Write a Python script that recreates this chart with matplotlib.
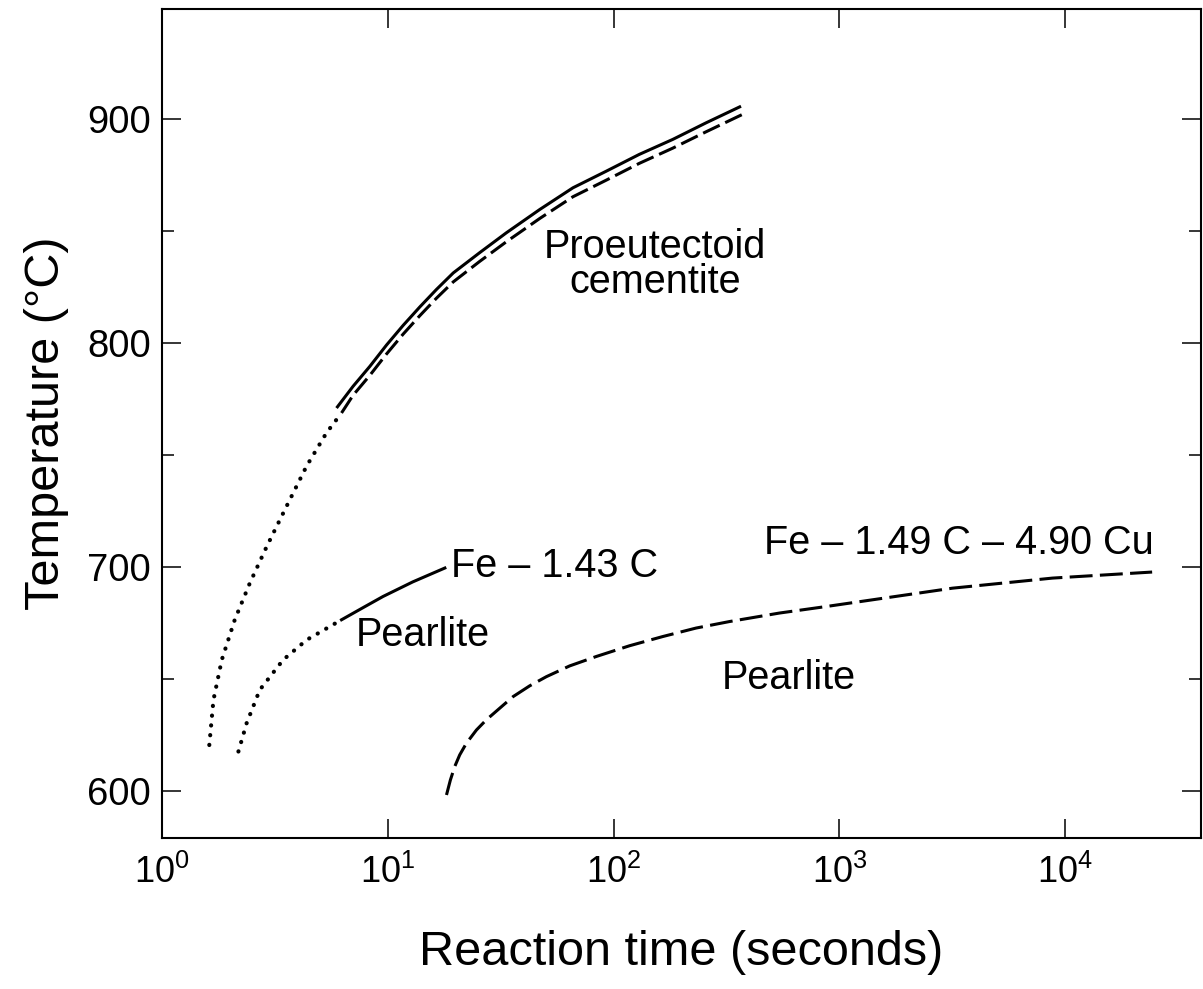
import matplotlib

matplotlib.use("Agg")
import matplotlib.pyplot as plt
from matplotlib.ticker import FixedLocator, LogFormatterMathtext, NullLocator

plt.rcParams["font.family"] = ["Liberation Sans", "DejaVu Sans"]
plt.rcParams["mathtext.fontset"] = "custom"
plt.rcParams["mathtext.rm"] = "Liberation Sans"
plt.rcParams["mathtext.it"] = "Liberation Sans:italic"
plt.rcParams["mathtext.bf"] = "Liberation Sans:bold"

# proeutectoid cementite start (solid / dashed) with dotted low-T extension
cem_solid_t = [5.93, 7.02, 8.33, 9.87, 11.7, 13.86, 16.42, 19.5, 25.5, 33.5, 47.1,
               66.1, 92.8, 130, 183, 257, 367]
cem_solid_T = [770.9, 780.6, 789.5, 799.0, 807.8, 816.0, 823.8, 831.2, 840.2, 849.1,
               859.5, 869.2, 876.6, 884.1, 890.8, 898.2, 905.6]
cem_dash_t = [6.24, 7.02, 8.33, 9.87, 11.7, 13.86, 16.42, 19.5, 25.5, 33.5, 47.1,
              66.1, 92.8, 130, 183, 257, 386]
cem_dash_T = [768.7, 776.6, 785.5, 795.0, 803.9, 812.1, 819.9, 827.2, 836.3, 845.1,
              855.5, 865.2, 872.6, 880.1, 886.9, 894.2, 902.7]
cem_dot_t = [1.62, 1.69, 1.84, 2.10, 2.45, 2.91, 3.56, 4.37, 5.35, 6.24]
cem_dot_T = [620.5, 640.6, 658.5, 676.4, 692.8, 709.1, 727.0, 745.0, 759.8, 768.7]

# pearlite start, Fe - 1.43 C
prl_dot_t = [2.18, 2.37, 2.71, 3.44, 4.37, 6.24]
prl_dot_T = [617.6, 630.2, 645.1, 658.5, 667.4, 676.4]
prl_solid_t = [6.24, 7.8, 9.53, 12.9, 17.9]
prl_solid_T = [676.4, 681.9, 686.8, 693.3, 699.5]

# pearlite start, Fe - 1.49 C - 4.90 Cu
cu_t = [18.2, 18.94, 19.8, 20.83, 22.3, 24.7, 27.3, 31.3, 35.9, 42.5, 50.4, 63.9,
        83.8, 117.7, 165, 232, 326, 543, 873, 3170, 8790, 24300]
cu_T = [598.2, 604.9, 610.9, 616.1, 621.3, 627.2, 631.7, 636.9, 642.1, 646.9, 651.0,
        655.8, 660.0, 664.8, 668.9, 672.7, 675.6, 679.4, 682.3, 690.5, 695.0, 697.7]

x_ticks = [1, 10, 100, 1000, 10000]
y_major = [600, 700, 800, 900]
y_minor = [650, 750, 850]

W, H = 1203, 989
fig = plt.figure(figsize=(W / 100, H / 100), dpi=100)
ax = fig.add_axes([162 / W, 1 - 838 / H, (1201 - 162) / W, (838 - 9) / H])

lw = 2.2
dot_lw = 3.0
dots = (0, (0.05, 2.3))
ax.plot(cem_solid_t, cem_solid_T, color="black", lw=lw, solid_capstyle="butt")
ax.plot(cem_dash_t, cem_dash_T, color="black", lw=lw, linestyle=(0, (6.0, 2.0)))
ax.plot(cem_dot_t, cem_dot_T, color="black", lw=dot_lw, linestyle=dots,
        dash_capstyle="round")
ax.plot(prl_dot_t, prl_dot_T, color="black", lw=dot_lw, linestyle=dots,
        dash_capstyle="round")
ax.plot(prl_solid_t, prl_solid_T, color="black", lw=lw)
ax.plot(cu_t, cu_T, color="black", lw=lw, linestyle=(0, (7.5, 2.4)))

ax.set_xscale("log")
ax.set_xlim(1, 4.0e4)
ax.set_ylim(579, 949)

ax.xaxis.set_major_locator(FixedLocator(x_ticks))
ax.xaxis.set_minor_locator(NullLocator())
ax.xaxis.set_major_formatter(LogFormatterMathtext())
ax.yaxis.set_major_locator(FixedLocator(y_major))
ax.yaxis.set_minor_locator(FixedLocator(y_minor))

ax.tick_params(which="both", direction="in", top=True, right=True, width=1.1,
               colors="black")
ax.tick_params(axis="y", labelsize=27.5, pad=8)
ax.tick_params(axis="x", labelsize=26, pad=12)
ax.tick_params(which="major", length=14)
ax.tick_params(which="minor", length=8.5)
for side in ax.spines.values():
    side.set_linewidth(1.5)

ax.set_xlabel("Reaction time (seconds)", fontsize=35, labelpad=28)
ax.set_ylabel("Temperature (°C)", fontsize=35, labelpad=13)

fs = 28.5
ax.text(153, 835, "Proeutectoid\ncementite", fontsize=fs, ha="center", va="center",
        linespacing=0.92)
ax.text(19.1, 700.2, "Fe – 1.43 C", fontsize=fs, ha="left", va="center")
ax.text(14.3, 669.7, "Pearlite", fontsize=fs, ha="center", va="center")
ax.text(3398, 710.6, "Fe – 1.49 C – 4.90 Cu", fontsize=fs, ha="center", va="center")
ax.text(595, 650.3, "Pearlite", fontsize=fs, ha="center", va="center")

fig.savefig("out.png", dpi=100)
